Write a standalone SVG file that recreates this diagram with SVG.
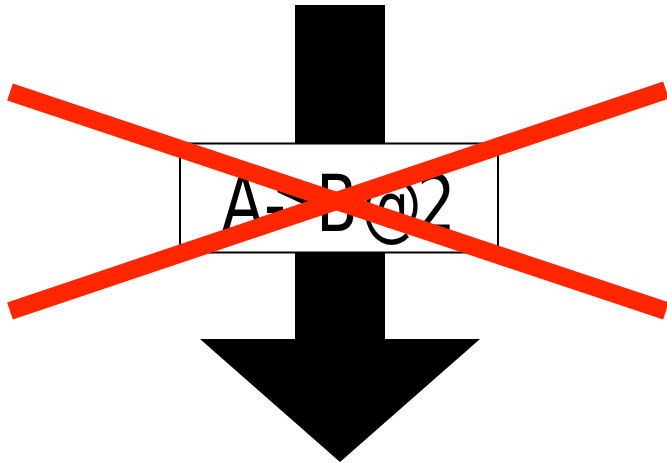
<svg xmlns="http://www.w3.org/2000/svg" width="667" height="463" viewBox="0 0 667 463">
<style>
.arrow{fill:#000}
.box{fill:#fff;stroke:#000;stroke-width:2}
.lbl{font-family:"DejaVu Sans","Liberation Sans",sans-serif;font-size:78px;fill:#000}
.cross{stroke:#ff2600;stroke-width:18;fill:none}
</style>
<g id="arrow">
<polygon class="arrow" points="295,5 385,5 385,339 480,339 340,462 200,339 295,339"/>
</g>
<g id="node-label">
<rect class="box" x="180" y="143.5" width="318" height="109"/>
<text class="lbl" transform="scale(0.78,1)" x="284.6 338.5 347.4 405.1 462.8 534.6" y="231">A-&gt;B@2</text>
</g>
<g id="connectors">
<line class="cross" x1="10" y1="92" x2="666" y2="311"/>
<line class="cross" x1="10" y1="311" x2="666" y2="90"/>
</g>
</svg>
